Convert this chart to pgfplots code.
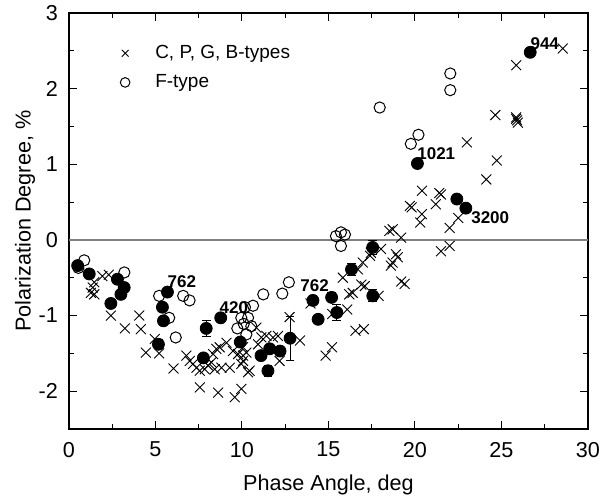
\documentclass[border=0pt]{standalone}
\usepackage{fontspec}
\setmainfont{Liberation Sans}
\usepackage{pgfplots}
\pgfplotsset{compat=1.18}

% C, P, G, B-type asteroids
\pgfplotstableread{
x y
1.27 -0.70
1.37 -0.63
1.46 -0.56
1.46 -0.72
1.93 -0.48
2.30 -0.46
2.42 -1.00
3.23 -1.17
4.06 -1.00
4.15 -1.18
4.44 -1.49
4.96 -1.31
5.21 -1.50
6.04 -1.70
6.79 -1.53
6.98 -1.60
7.17 -1.64
7.37 -1.69
7.56 -1.73
7.85 -1.71
8.04 -1.66
8.23 -1.62
8.33 -1.51
8.52 -1.44
8.71 -1.42
9.10 -1.36
8.43 -1.71
8.81 -1.69
9.29 -1.69
9.48 -1.47
9.77 -1.51
10.06 -1.53
10.25 -1.49
9.96 -1.64
10.35 -1.75
7.56 -1.95
8.62 -2.02
9.58 -2.08
9.96 -1.97
10.06 -1.42
10.06 -1.60
10.83 -1.16
10.93 -1.38
11.12 -1.29
11.41 -1.27
11.79 -1.29
12.08 -1.27
12.17 -1.60
10.44 -1.73
12.75 -1.02
13.35 -1.33
13.96 -0.84
14.83 -1.53
15.20 -1.42
15.22 -0.98
15.83 -0.50
16.20 -0.72
16.40 -0.70
16.08 -0.92
16.56 -1.20
17.04 -1.18
16.70 -0.39
16.98 -0.30
16.90 -0.59
17.10 -0.61
17.40 -0.21
17.45 -0.17
17.90 -0.74
18.04 -0.12
18.52 0.12
18.71 0.14
18.90 -0.19
19.00 -0.23
18.70 -0.30
18.60 -0.34
19.20 0.03
19.20 -0.55
19.40 -0.58
19.70 0.45
19.80 0.43
20.40 0.65
20.40 0.34
20.30 0.23
21.20 0.47
21.40 0.62
21.50 0.60
22.00 0.16
22.50 0.29
22.00 -0.08
21.50 -0.15
23.00 1.29
24.12 0.80
24.73 1.05
24.64 1.65
25.85 1.62
25.90 1.58
25.95 1.55
25.85 1.60
25.85 2.31
28.54 2.53
}\cpgb

% F-type asteroids
\pgfplotstableread{
x y
0.54 -0.37
0.88 -0.27
3.20 -0.43
5.21 -0.74
5.79 -1.03
6.17 -1.29
6.60 -0.74
6.97 -0.80
9.73 -1.17
9.96 -1.03
10.17 -0.89
10.35 -1.03
10.54 -1.14
10.25 -1.25
10.64 -0.87
10.10 -1.11
11.23 -0.72
12.33 -0.71
12.71 -0.56
15.43 0.05
15.72 0.10
15.95 0.07
15.72 -0.08
17.96 1.75
19.76 1.27
20.20 1.39
22.04 2.20
22.04 1.98
}\ftype

% individual objects with errors
\pgfplotstableread{
x y e
0.50 -0.34 0
1.17 -0.45 0
2.42 -0.84 0
2.80 -0.52 0
3.00 -0.72 0
3.19 -0.63 0
5.17 -1.38 0.06
5.40 -0.89 0.05
5.46 -1.07 0.05
5.69 -0.69 0
7.77 -1.56 0
7.93 -1.17 0.11
8.77 -1.03 0
9.90 -1.35 0
11.10 -1.53 0
11.60 -1.44 0
12.20 -1.47 0
11.50 -1.73 0.07
12.78 -1.30 0.29
14.10 -0.80 0.06
14.40 -1.05 0.05
15.18 -0.76 0.06
15.48 -0.96 0.10
16.33 -0.39 0.08
17.55 -0.10 0.09
17.56 -0.74 0.08
20.14 1.01 0
22.42 0.54 0
22.94 0.42 0
26.66 2.48 0
}\objs

\begin{document}
\begin{tikzpicture}
\begin{axis}[
  scale only axis,
  width=259.5pt, height=208pt,
  xmin=0, xmax=30, ymin=-2.5, ymax=3,
  xtick={0,5,...,30}, ytick={-2,-1,0,1,2,3},
  minor x tick num=1, minor y tick num=1,
  tick align=inside,
  major tick length=4pt, minor tick length=2.5pt,
  tick style={black, line width=0.5pt},
  axis line style={line width=0.6pt},
  /pgf/number format/assume math mode=true,
  ticklabel style={font=\fontsize{10.8}{12}\selectfont},
  xticklabel style={yshift=-3pt},
  yticklabel style={xshift=-2pt},
  label style={font=\fontsize{10.8}{12}\selectfont},
  xlabel={Phase Angle, deg},
  ylabel={Polarization Degree, \%},
  xlabel style={yshift=-2pt},
  ylabel style={yshift=-5pt},
  legend style={draw=none, fill=none, at={(0.062,0.943)}, anchor=north west,
    font=\fontsize{9.5}{10}\selectfont, row sep=2.5pt},
  legend cell align=left,
  legend image code/.code={
    \draw[mark size=2.4pt] plot coordinates {(0.3cm,0cm)};
    \path (0cm,0cm) (0.75cm,0cm);
  },
  clip=false,
]
\addplot[gray, line width=0.6pt, forget plot] coordinates {(0,0) (30,0)};
\addplot[only marks, mark=x, mark size=3.5pt, black, line width=0.45pt] table {\cpgb};
\addlegendentry{C, P, G, B-types}
\addplot[only marks, mark=o, mark size=2.8pt, black, line width=0.5pt,
  mark options={fill=white}] table {\ftype};
\addlegendentry{F-type}
\addplot[only marks, mark=*, mark size=3pt, black, forget plot,
  error bars/.cd, y dir=both, y explicit,
  error bar style={line width=0.5pt, black},
  error mark options={rotate=90, mark size=2.2pt, line width=0.5pt}]
  table[x=x, y=y, y error=e] {\objs};
\node[font=\bfseries\fontsize{8.5}{9}\selectfont] at (axis cs:6.52,-0.55) {762};
\node[font=\bfseries\fontsize{8.5}{9}\selectfont] at (axis cs:9.53,-0.90) {420};
\node[font=\bfseries\fontsize{8.5}{9}\selectfont] at (axis cs:14.2,-0.60) {762};
\node[font=\bfseries\fontsize{8.5}{9}\selectfont] at (axis cs:21.23,1.14) {1021};
\node[font=\bfseries\fontsize{8.5}{9}\selectfont] at (axis cs:24.35,0.29) {3200};
\node[font=\bfseries\fontsize{8.5}{9}\selectfont] at (axis cs:27.5,2.60) {944};
\end{axis}
\pgfresetboundingbox
\path ([shift={(-34.5pt,-33.5pt)}]current axis.south west)
  rectangle ([shift={(6pt,6.5pt)}]current axis.north east);
\end{tikzpicture}
\end{document}
